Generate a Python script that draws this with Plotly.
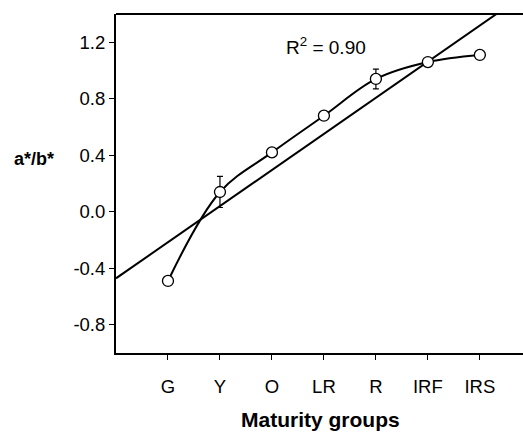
import numpy as np
import plotly.graph_objects as go

categories = ["G", "Y", "O", "LR", "R", "IRF", "IRS"]
positions = [1, 2, 3, 4, 5, 6, 7]
values = [-0.49, 0.14, 0.42, 0.68, 0.94, 1.06, 1.11]
errors = [0.0, 0.11, 0.03, 0.03, 0.07, 0.02, 0.03]
r2_text = "R<sup>2</sup> = 0.90"

slope, intercept = np.polyfit(positions, values, 1)
fit_x = [0, 8]
fit_y = [intercept + slope * v for v in fit_x]

FONT = "Liberation Sans, Arial, sans-serif"

fig = go.Figure()
fig.add_trace(go.Scatter(x=fit_x, y=fit_y, mode="lines",
                         line=dict(color="black", width=2), showlegend=False))
fig.add_trace(go.Scatter(x=positions, y=values, mode="lines+markers",
                         line=dict(color="black", width=2, shape="spline", smoothing=1),
                         marker=dict(symbol="circle", size=11, color="white",
                                     line=dict(color="black", width=1.3)),
                         error_y=dict(type="data", array=errors, visible=True,
                                      color="black", thickness=1.2, width=3),
                         showlegend=False))

fig.update_layout(
    width=523, height=433,
    margin=dict(l=116, r=0, t=14, b=80),
    plot_bgcolor="white", paper_bgcolor="white",
    font=dict(family=FONT, size=18, color="black"),
    xaxis=dict(range=[0, 7.83], tickvals=positions, ticktext=categories,
               showline=True, linecolor="black", linewidth=2,
               ticks="outside", ticklen=5, tickcolor="black", tickwidth=1,
               showgrid=False, zeroline=False, ticklabelstandoff=11,
               tickfont=dict(size=18.5)),
    yaxis=dict(range=[-1.0, 1.4], tickvals=[-0.8, -0.4, 0.0, 0.4, 0.8, 1.2],
               ticktext=["-0.8", "-0.4", "0.0", "0.4", "0.8", "1.2"],
               showline=True, linecolor="black", linewidth=2,
               ticks="outside", ticklen=5, tickcolor="black", tickwidth=1,
               showgrid=False, zeroline=False, tickfont=dict(size=18.5)),
    shapes=[dict(type="line", xref="paper", yref="paper", x0=0, x1=1, y0=1, y1=1,
                 line=dict(color="black", width=2))],
    annotations=[
        dict(text=r2_text, x=3.24, y=1.17, xref="x", yref="y", showarrow=False,
             xanchor="left", yanchor="middle", font=dict(size=19)),
        dict(text="<b>a*/b*</b>", x=-0.255, y=0.37, xref="paper", yref="y", showarrow=False,
             xanchor="left", font=dict(size=18)),
        dict(text="<b>Maturity groups</b>", x=3.93, y=-0.196, xref="x", yref="paper",
             showarrow=False, yanchor="middle", font=dict(size=21)),
    ],
)
fig.write_html("out.html")
